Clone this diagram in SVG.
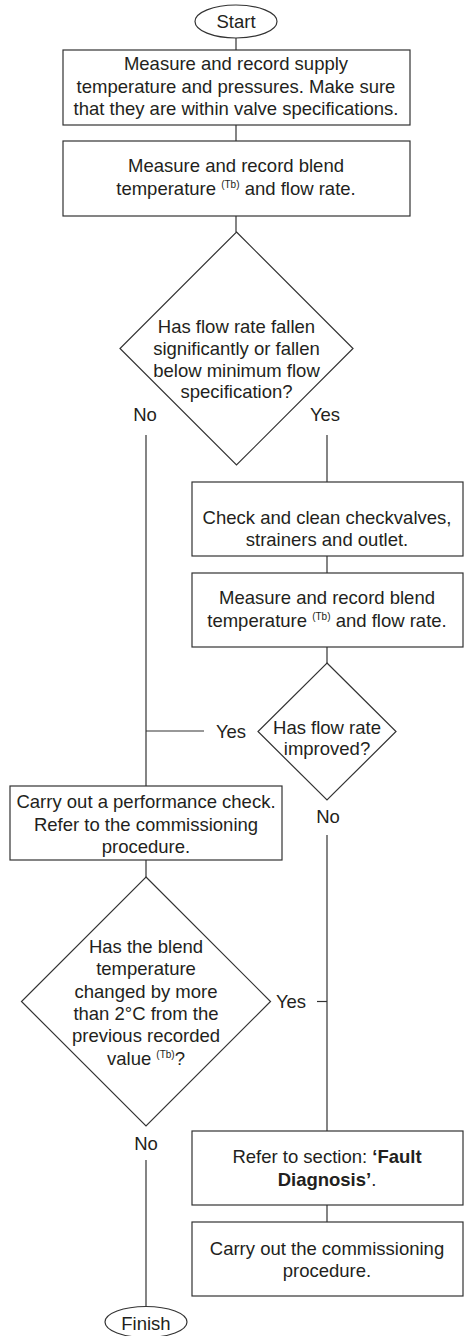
<svg xmlns="http://www.w3.org/2000/svg" width="468" height="1336" viewBox="0 0 468 1336">
<style>
.s{fill:#fff;stroke:#333;stroke-width:1.2}
.c{fill:none;stroke:#333;stroke-width:1.2}
text{font-family:"Liberation Sans",Arial,sans-serif;font-size:18.5px;fill:#231f20;text-anchor:middle}
.sup{font-size:10px}
.b{font-weight:bold}
</style>
<rect width="468" height="1336" fill="#fff"/>
<g id="connectors">
<line class="c" x1="236" y1="38" x2="236" y2="50"/>
<line class="c" x1="236" y1="125" x2="236" y2="141"/>
<line class="c" x1="236" y1="216" x2="236" y2="232"/>
<line class="c" x1="146" y1="435" x2="146" y2="786"/>
<line class="c" x1="327" y1="435" x2="327" y2="482"/>
<line class="c" x1="327" y1="556" x2="327" y2="573"/>
<line class="c" x1="327" y1="647" x2="327" y2="663"/>
<line class="c" x1="146" y1="731" x2="204" y2="731"/>
<line class="c" x1="327" y1="835" x2="327" y2="1131"/>
<line class="c" x1="317" y1="1001.5" x2="327" y2="1001.5"/>
<line class="c" x1="146" y1="860" x2="146" y2="877"/>
<line class="c" x1="146" y1="1160" x2="146" y2="1307"/>
<line class="c" x1="327" y1="1205" x2="327" y2="1222"/>
<text x="145" y="421">No</text>
<text x="325" y="421">Yes</text>
<text x="231" y="738">Yes</text>
<text x="328" y="823">No</text>
<text x="291" y="1008">Yes</text>
<text x="146" y="1150">No</text>
</g>
<g id="start">
<ellipse class="s" cx="236" cy="21.5" rx="41" ry="16.5"/>
<text x="236" y="27.5">Start</text>
</g>
<g id="box1">
<rect class="s" x="63" y="50" width="347" height="75"/>
<text x="236" y="70">Measure and record supply</text>
<text x="236" y="92.5">temperature and pressures. Make sure</text>
<text x="236" y="115">that they are within valve specifications.</text>
</g>
<g id="box2">
<rect class="s" x="63" y="141" width="347" height="75"/>
<text x="236" y="172">Measure and record blend</text>
<text x="236" y="195">temperature <tspan class="sup" dy="-7">(Tb)</tspan><tspan dy="7"> and flow rate.</tspan></text>
</g>
<g id="decision1">
<polygon class="s" points="236.5,232 353,348.5 236.5,465 120,348.5"/>
<text x="236.5" y="333">Has flow rate fallen</text>
<text x="236.5" y="355">significantly or fallen</text>
<text x="236.5" y="377">below minimum flow</text>
<text x="236.5" y="398">specification?</text>
</g>
<g id="box3">
<rect class="s" x="192" y="482" width="271" height="74"/>
<text x="327" y="524">Check and clean checkvalves,</text>
<text x="327" y="546">strainers and outlet.</text>
</g>
<g id="box4">
<rect class="s" x="192" y="573" width="271" height="74"/>
<text x="327" y="604">Measure and record blend</text>
<text x="327" y="627">temperature <tspan class="sup" dy="-7">(Tb)</tspan><tspan dy="7"> and flow rate.</tspan></text>
</g>
<g id="decision2">
<polygon class="s" points="327,663 396,731.5 327,800 258,731.5"/>
<text x="327" y="733.5">Has flow rate</text>
<text x="327" y="754.5">improved?</text>
</g>
<g id="box5">
<rect class="s" x="10" y="786" width="272" height="74"/>
<text x="146" y="808">Carry out a performance check.</text>
<text x="146" y="830.5">Refer to the commissioning</text>
<text x="146" y="853">procedure.</text>
</g>
<g id="decision3">
<polygon class="s" points="146,877 270.5,1001.5 146,1126 21.5,1001.5"/>
<text x="146" y="953">Has the blend</text>
<text x="146" y="975.3">temperature</text>
<text x="146" y="997.6">changed by more</text>
<text x="146" y="1019.9">than 2°C from the</text>
<text x="146" y="1042.2">previous recorded</text>
<text x="146" y="1064.5">value <tspan class="sup" dy="-7">(Tb)</tspan><tspan dy="7">?</tspan></text>
</g>
<g id="box6">
<rect class="s" x="192" y="1131" width="271" height="74"/>
<text x="327" y="1163">Refer to section: <tspan class="b">‘Fault</tspan></text>
<text x="327" y="1186"><tspan class="b">Diagnosis’</tspan>.</text>
</g>
<g id="box7">
<rect class="s" x="192" y="1222" width="271" height="74"/>
<text x="327" y="1255">Carry out the commissioning</text>
<text x="327" y="1277">procedure.</text>
</g>
<g id="finish">
<ellipse class="s" cx="146" cy="1322" rx="41" ry="15.5"/>
<text x="146" y="1330">Finish</text>
</g>
</svg>
